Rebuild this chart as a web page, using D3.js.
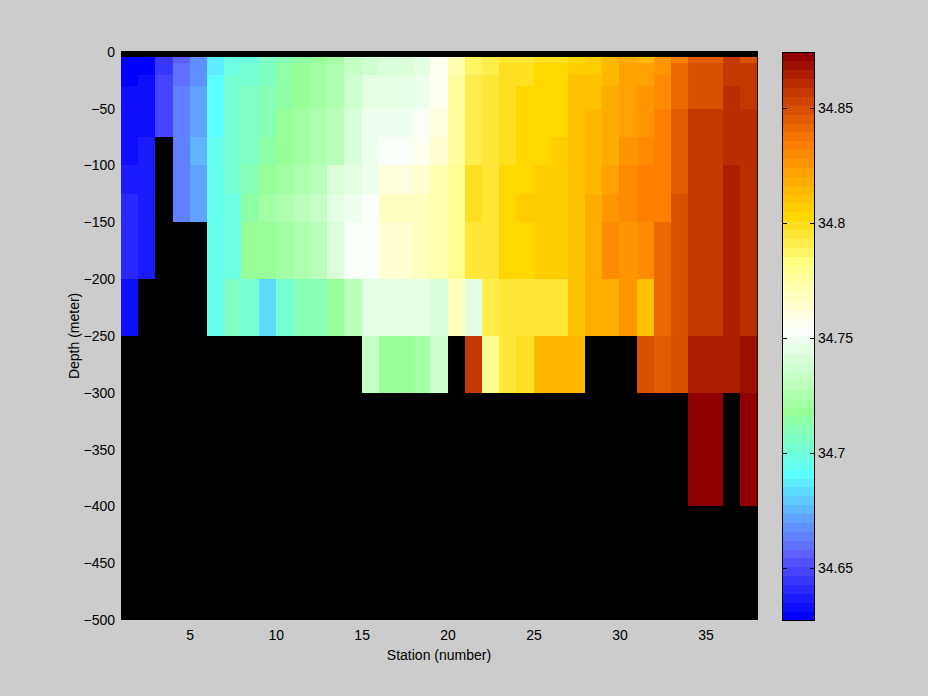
<!DOCTYPE html>
<html><head><meta charset="utf-8">
<script src="https://cdn.jsdelivr.net/npm/d3@7"></script>
<style>
html,body{margin:0;padding:0;background:#cccccc;}
svg{display:block;}
text{font-family:"Liberation Sans",Arial,Helvetica,sans-serif;}
</style>
</head><body>
<svg id="chart" width="928" height="696"></svg>
<script>
// ---- data ----
const stations = [1,2,3,4,5,6,7,8,9,10,11,12,13,14,15,16,17,18,19,20,21,22,23,24,25,26,27,28,29,30,31,32,33,34,35,36,37,38];
const depths = [-5,-10,-20,-30,-50,-75,-100,-125,-150,-175,-200,-250,-300,-400];

// salinity at each depth level, stations 1..37 (null = no data)
const sal5   = [34.630,34.630,34.645,34.656,34.668,34.687,34.699,34.699,34.707,34.710,34.714,34.718,34.722,34.733,34.737,34.741,34.741,34.745,34.757,34.772,34.787,34.791,34.795,34.795,34.799,34.799,34.803,34.807,34.814,34.818,34.814,34.826,34.834,34.845,34.845,34.857,34.849];
const sal10  = [34.630,34.630,34.645,34.660,34.668,34.687,34.699,34.703,34.707,34.714,34.718,34.722,34.726,34.733,34.737,34.741,34.741,34.745,34.757,34.772,34.787,34.791,34.799,34.799,34.803,34.803,34.807,34.807,34.814,34.822,34.822,34.826,34.841,34.849,34.849,34.857,34.857];
const sal20  = [34.630,34.633,34.649,34.660,34.668,34.691,34.703,34.703,34.707,34.714,34.718,34.722,34.726,34.737,34.745,34.745,34.745,34.749,34.757,34.776,34.791,34.795,34.799,34.799,34.803,34.803,34.810,34.810,34.814,34.822,34.822,34.830,34.841,34.849,34.849,34.857,34.857];
const sal30  = [34.633,34.633,34.649,34.664,34.672,34.691,34.703,34.707,34.710,34.714,34.718,34.722,34.726,34.737,34.745,34.745,34.745,34.749,34.757,34.776,34.791,34.795,34.799,34.803,34.803,34.803,34.810,34.810,34.818,34.822,34.826,34.830,34.841,34.849,34.849,34.861,34.857];
const sal50  = [34.633,34.633,34.649,34.664,34.672,34.691,34.703,34.707,34.710,34.718,34.722,34.726,34.730,34.741,34.749,34.749,34.749,34.753,34.760,34.776,34.791,34.795,34.799,34.803,34.803,34.803,34.810,34.814,34.818,34.822,34.826,34.834,34.845,34.857,34.857,34.861,34.861];
const sal75  = [34.633,34.637,null,34.664,34.676,34.695,34.703,34.707,34.714,34.718,34.722,34.726,34.730,34.741,34.749,34.753,34.753,34.757,34.764,34.776,34.791,34.795,34.799,34.803,34.803,34.807,34.810,34.814,34.818,34.826,34.830,34.834,34.845,34.857,34.857,34.861,34.861];
const sal100 = [34.637,34.637,null,34.664,34.672,34.695,34.703,34.710,34.718,34.722,34.726,34.730,34.741,34.745,34.749,34.760,34.760,34.764,34.772,34.780,34.799,34.795,34.803,34.803,34.807,34.807,34.810,34.814,34.822,34.830,34.834,34.834,34.845,34.857,34.857,34.864,34.861];
const sal125 = [34.641,34.637,null,34.664,34.672,34.695,34.699,34.714,34.722,34.726,34.730,34.733,34.745,34.749,34.753,34.768,34.768,34.768,34.772,34.780,34.799,34.795,34.803,34.807,34.807,34.807,34.810,34.818,34.826,34.830,34.834,34.834,34.849,34.857,34.857,34.864,34.861];
const sal150 = [34.641,34.637,null,null,null,34.695,34.699,34.718,34.718,34.722,34.726,34.730,34.741,34.753,34.753,34.764,34.764,34.768,34.772,34.780,34.795,34.795,34.803,34.803,34.807,34.807,34.810,34.818,34.830,34.826,34.830,34.841,34.849,34.857,34.857,34.864,34.861];
const sal175 = [34.641,34.637,null,null,null,34.695,34.699,34.718,34.718,34.722,34.726,34.730,34.741,34.753,34.753,34.764,34.764,34.768,34.772,34.780,34.795,34.795,34.803,34.803,34.807,34.807,34.810,34.818,34.830,34.826,34.830,34.841,34.849,34.857,34.857,34.864,34.861];
const sal200 = [34.633,null,null,null,null,34.695,34.707,34.703,34.683,34.703,34.710,34.710,34.718,34.730,34.745,34.745,34.745,34.745,34.741,34.768,34.745,34.791,34.795,34.795,34.795,34.795,34.810,34.818,34.818,34.826,34.810,34.841,34.849,34.857,34.857,34.864,34.861];
const sal250 = [null,null,null,null,null,null,null,null,null,null,null,null,null,null,34.733,34.718,34.718,34.722,34.737,null,34.857,34.780,34.795,34.799,34.814,34.814,34.814,null,null,null,34.849,34.845,34.849,34.864,34.864,34.864,34.868];
const sal300 = [null,null,null,null,null,null,null,null,null,null,null,null,null,null,null,null,null,null,null,null,null,null,null,null,null,null,null,null,null,null,null,null,null,34.872,34.872,null,34.872];
const salinityRows = [sal5,sal10,sal20,sal30,sal50,sal75,sal100,sal125,sal150,sal175,sal200,sal250,sal300];

const xTicks = [5,10,15,20,25,30,35];
const yTicks = [0,-50,-100,-150,-200,-250,-300,-350,-400,-450,-500];
const cTicks = [34.65,34.7,34.75,34.8,34.85];
const cTickLabels = ["34.65","34.7","34.75","34.8","34.85"];
const cLimits = [34.6276, 34.8742];
const xLimits = [1, 38];
const yLimits = [-500, 0];

// colormap anchors (level 1..64)
const cmapLevels = [1,8,11,17,24,33,34,40,41,42,45,46,54,58,61,64];
const cmapColors = ["#0000ff","#6060ff","#6090ff","#5cffff","#98ff98","#fafffa","#fffff0","#ffff90","#ffff80","#fff464","#ffe020","#ffd800","#ff8000","#d85000","#bb2d00","#900000"];

// ---- layout ----
const W = 928, H = 696;
const plot = {left:121, right:757, top:51.8, bottom:620};
const cbar = {left:782, right:814, top:52, bottom:620};
const FONT = 14;

const svg = d3.select("#chart");
svg.append("rect").attr("width",W).attr("height",H).attr("fill","#cccccc");

const x = d3.scaleLinear().domain(xLimits).range([plot.left, plot.right]);
const y = d3.scaleLinear().domain(yLimits).range([plot.bottom, plot.top]);

const cmapInterp = d3.scaleLinear().domain(cmapLevels).range(cmapColors).interpolate(d3.interpolateRgb);
const cmap64 = d3.range(1,65).map(l => cmapInterp(l));
const color = d3.scaleQuantize().domain(cLimits).range(cmap64);

// axes background (black)
svg.append("rect")
  .attr("x",plot.left).attr("y",51)
  .attr("width",plot.right - plot.left + 1).attr("height",plot.bottom - 51)
  .attr("fill","#000");

// cells
const cells = [];
salinityRows.forEach((row, j) => {
  row.forEach((v, i) => {
    if (v !== null) cells.push({i, j, v});
  });
});
svg.append("g").attr("shape-rendering","crispEdges")
  .selectAll("rect").data(cells).join("rect")
  .attr("x", d => Math.round(x(stations[d.i])))
  .attr("width", d => Math.round(x(stations[d.i+1])) - Math.round(x(stations[d.i])))
  .attr("y", d => Math.round(y(depths[d.j])))
  .attr("height", d => Math.round(y(depths[d.j+1])) - Math.round(y(depths[d.j])))
  .attr("fill", d => color(d.v));

// x axis
const xAxis = svg.append("g").attr("transform",`translate(0,${plot.bottom})`)
  .call(d3.axisBottom(x).tickValues(xTicks).tickSize(0).tickPadding(10).tickFormat(d3.format("d")));
xAxis.select(".domain").remove();
xAxis.selectAll("text").attr("font-size",FONT).attr("font-family",'"Liberation Sans",Arial,sans-serif').attr("fill","#000");

// y axis
const yAxis = svg.append("g").attr("transform",`translate(${plot.left},0)`)
  .call(d3.axisLeft(y).tickValues(yTicks).tickSize(0).tickPadding(6).tickFormat(d3.format("d")));
yAxis.select(".domain").remove();
yAxis.selectAll("text").attr("font-size",FONT).attr("font-family",'"Liberation Sans",Arial,sans-serif').attr("fill","#000");

// axis labels
svg.append("text").attr("x",(plot.left+plot.right)/2).attr("y",660)
  .attr("text-anchor","middle").attr("font-size",FONT).text("Station (number)");
svg.append("text").attr("transform",`translate(79,${(plot.top+plot.bottom)/2}) rotate(-90)`)
  .attr("text-anchor","middle").attr("font-size",FONT).text("Depth (meter)");

// colorbar
const cy = d3.scaleLinear().domain(cLimits).range([cbar.bottom, cbar.top]);
const step = (cLimits[1]-cLimits[0]) / cmap64.length;
svg.append("g").attr("shape-rendering","crispEdges")
  .selectAll("rect").data(cmap64).join("rect")
  .attr("x", cbar.left).attr("width", cbar.right - cbar.left)
  .attr("y", (c,k) => cy(cLimits[0] + (k+1)*step))
  .attr("height", (c,k) => cy(cLimits[0] + k*step) - cy(cLimits[0] + (k+1)*step) + 0.6)
  .attr("fill", c => c);
svg.append("rect").attr("x",cbar.left+0.5).attr("y",cbar.top+0.5)
  .attr("width",cbar.right-cbar.left).attr("height",cbar.bottom-cbar.top)
  .attr("fill","none").attr("stroke","#000").attr("stroke-width",1);
const cTickG = svg.append("g").attr("shape-rendering","crispEdges");
cTicks.forEach(t => {
  const yy = Math.round(cy(t)) + 0.5;
  cTickG.append("line").attr("x1",cbar.left).attr("x2",cbar.left+5).attr("y1",yy).attr("y2",yy).attr("stroke","#000");
  cTickG.append("line").attr("x1",cbar.right-4).attr("x2",cbar.right+1).attr("y1",yy).attr("y2",yy).attr("stroke","#000");
});
const cAxis = svg.append("g").attr("transform",`translate(${cbar.right},0)`)
  .call(d3.axisRight(cy).tickValues(cTicks).tickSize(0).tickPadding(4).tickFormat((d,i)=>cTickLabels[i]));
cAxis.select(".domain").remove();
cAxis.selectAll("text").attr("font-size",FONT).attr("font-family",'"Liberation Sans",Arial,sans-serif').attr("fill","#000");
</script>
</body></html>
